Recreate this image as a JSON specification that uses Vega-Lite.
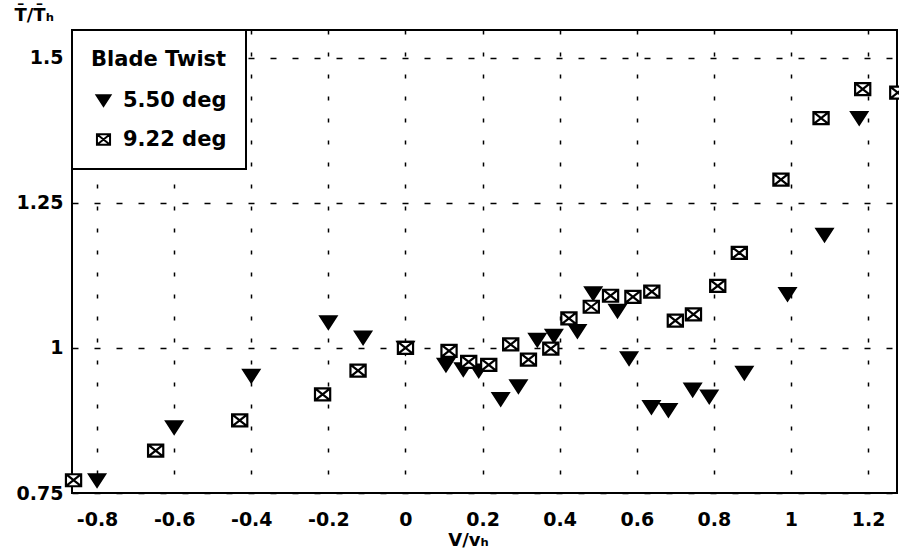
{
  "$schema": "https://vega.github.io/schema/vega-lite/v6.json",
  "width": 825,
  "height": 463,
  "autosize": {"type": "none"},
  "padding": {"left": 72, "top": 30, "right": 2, "bottom": 65},
  "background": "white",
  "config": {
    "font": "DejaVu Sans",
    "view": {"stroke": "black", "strokeWidth": 2},
    "axis": {
      "labelFont": "DejaVu Sans",
      "labelFontWeight": "bold",
      "labelFontSize": 19,
      "labelColor": "black",
      "titleColor": "black",
      "titleFont": "DejaVu Sans",
      "titleFontWeight": "bold",
      "titleFontSize": 18,
      "domain": false,
      "ticks": false,
      "gridColor": "black",
      "gridWidth": 1.5,
      "gridOpacity": 1
    },
    "legend": {
      "strokeColor": "black",
      "strokeWidth": 2,
      "fillColor": "white",
      "padding": 19,
      "titleFont": "DejaVu Sans",
      "titleFontWeight": "bold",
      "titleFontSize": 21,
      "titleColor": "black",
      "titlePadding": 20,
      "labelFont": "DejaVu Sans",
      "labelFontWeight": "bold",
      "labelFontSize": 21,
      "labelColor": "black",
      "labelOffset": 9,
      "rowPadding": 17,
      "symbolSize": 190,
      "symbolStrokeWidth": 2,
      "symbolStrokeColor": "black",
      "symbolOffset": 2
    }
  },
  "data": {
    "values": [
      {"v": -0.80, "t": 0.772, "twist": "5.50 deg"},
      {"v": -0.60, "t": 0.863, "twist": "5.50 deg"},
      {"v": -0.40, "t": 0.952, "twist": "5.50 deg"},
      {"v": -0.20, "t": 1.044, "twist": "5.50 deg"},
      {"v": -0.11, "t": 1.018, "twist": "5.50 deg"},
      {"v": 0.00, "t": 1.000, "twist": "5.50 deg"},
      {"v": 0.105, "t": 0.971, "twist": "5.50 deg"},
      {"v": 0.15, "t": 0.963, "twist": "5.50 deg"},
      {"v": 0.19, "t": 0.961, "twist": "5.50 deg"},
      {"v": 0.247, "t": 0.912, "twist": "5.50 deg"},
      {"v": 0.293, "t": 0.934, "twist": "5.50 deg"},
      {"v": 0.342, "t": 1.014, "twist": "5.50 deg"},
      {"v": 0.385, "t": 1.021, "twist": "5.50 deg"},
      {"v": 0.446, "t": 1.029, "twist": "5.50 deg"},
      {"v": 0.487, "t": 1.094, "twist": "5.50 deg"},
      {"v": 0.55, "t": 1.064, "twist": "5.50 deg"},
      {"v": 0.58, "t": 0.982, "twist": "5.50 deg"},
      {"v": 0.638, "t": 0.898, "twist": "5.50 deg"},
      {"v": 0.682, "t": 0.893, "twist": "5.50 deg"},
      {"v": 0.745, "t": 0.928, "twist": "5.50 deg"},
      {"v": 0.788, "t": 0.916, "twist": "5.50 deg"},
      {"v": 0.879, "t": 0.957, "twist": "5.50 deg"},
      {"v": 0.991, "t": 1.093, "twist": "5.50 deg"},
      {"v": 1.087, "t": 1.195, "twist": "5.50 deg"},
      {"v": 1.177, "t": 1.396, "twist": "5.50 deg"},
      {"v": -0.861, "t": 0.772, "twist": "9.22 deg"},
      {"v": -0.648, "t": 0.823, "twist": "9.22 deg"},
      {"v": -0.43, "t": 0.875, "twist": "9.22 deg"},
      {"v": -0.215, "t": 0.920, "twist": "9.22 deg"},
      {"v": -0.123, "t": 0.961, "twist": "9.22 deg"},
      {"v": 0.00, "t": 1.000, "twist": "9.22 deg"},
      {"v": 0.113, "t": 0.995, "twist": "9.22 deg"},
      {"v": 0.164, "t": 0.976, "twist": "9.22 deg"},
      {"v": 0.216, "t": 0.971, "twist": "9.22 deg"},
      {"v": 0.273, "t": 1.006, "twist": "9.22 deg"},
      {"v": 0.319, "t": 0.980, "twist": "9.22 deg"},
      {"v": 0.377, "t": 0.999, "twist": "9.22 deg"},
      {"v": 0.424, "t": 1.051, "twist": "9.22 deg"},
      {"v": 0.482, "t": 1.071, "twist": "9.22 deg"},
      {"v": 0.532, "t": 1.090, "twist": "9.22 deg"},
      {"v": 0.59, "t": 1.088, "twist": "9.22 deg"},
      {"v": 0.639, "t": 1.097, "twist": "9.22 deg"},
      {"v": 0.70, "t": 1.047, "twist": "9.22 deg"},
      {"v": 0.747, "t": 1.058, "twist": "9.22 deg"},
      {"v": 0.81, "t": 1.107, "twist": "9.22 deg"},
      {"v": 0.866, "t": 1.164, "twist": "9.22 deg"},
      {"v": 0.974, "t": 1.290, "twist": "9.22 deg"},
      {"v": 1.078, "t": 1.396, "twist": "9.22 deg"},
      {"v": 1.186, "t": 1.446, "twist": "9.22 deg"},
      {"v": 1.277, "t": 1.440, "twist": "9.22 deg"}
    ]
  },
  "mark": {"type": "point", "filled": true, "strokeWidth": 2.2, "size": 256, "opacity": 1, "clip": false},
  "encoding": {
    "x": {
      "field": "v",
      "type": "quantitative",
      "scale": {"domain": [-0.865, 1.275], "nice": false, "zero": false},
      "axis": {
        "title": "V/vₕ",
        "titleX": 396,
        "titleY": 47,
        "titleAlign": "center",
        "titleBaseline": "middle",
        "values": [-0.8, -0.6, -0.4, -0.2, 0, 0.2, 0.4, 0.6, 0.8, 1, 1.2],
        "labelExpr": "datum.value < 0 ? '-' + format(-datum.value, '~g') : format(datum.value, '~g')",
        "labelPadding": 17,
        "gridDash": [4, 18]
      }
    },
    "y": {
      "field": "t",
      "type": "quantitative",
      "scale": {"domain": [0.75, 1.548], "nice": false, "zero": false},
      "axis": {
        "title": "T̄/T̄ₕ",
        "titleAngle": 0,
        "titleX": -58,
        "titleY": -15,
        "titleAlign": "left",
        "titleBaseline": "middle",
        "values": [0.75, 1, 1.25, 1.5],
        "labelExpr": "format(datum.value, '~g')",
        "labelPadding": 9,
        "gridDash": [6, 16]
      }
    },
    "shape": {
      "field": "twist",
      "type": "nominal",
      "scale": {
        "domain": ["5.50 deg", "9.22 deg"],
        "range": ["M-1,-0.75L1,-0.75L0,0.8Z", "M-0.95,-0.75H0.95V0.75H-0.95Z M-0.95,-0.75L0.95,0.75 M0.95,-0.75L-0.95,0.75"]
      },
      "legend": {"title": "Blade Twist", "orient": "top-left", "offset": 0}
    },
    "fill": {
      "field": "twist",
      "type": "nominal",
      "scale": {"domain": ["5.50 deg", "9.22 deg"], "range": ["black", "white"]},
      "legend": {"title": "Blade Twist", "orient": "top-left", "offset": 0}
    },
    "stroke": {
      "field": "twist",
      "type": "nominal",
      "scale": {"domain": ["5.50 deg", "9.22 deg"], "range": ["black", "#000000"]},
      "legend": {"title": "Blade Twist", "orient": "top-left", "offset": 0}
    }
  }
}
